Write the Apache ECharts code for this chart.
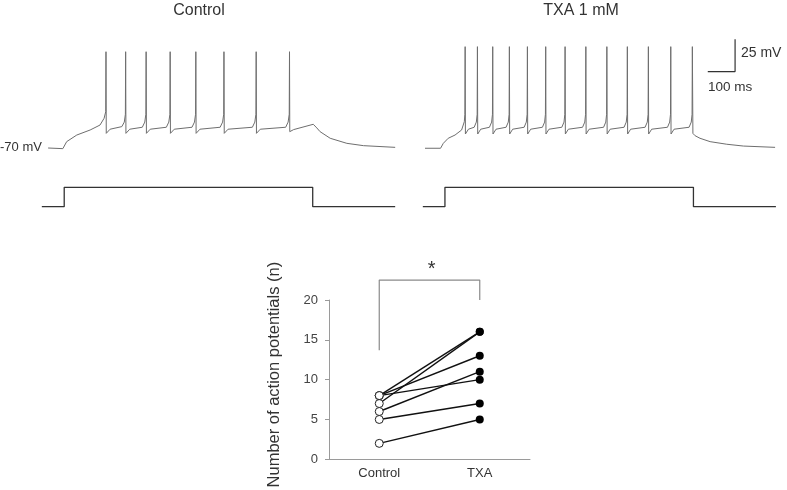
<!DOCTYPE html>
<html><head><meta charset="utf-8">
<script src="https://cdn.jsdelivr.net/npm/echarts@6/dist/echarts.min.js"></script>
<style>html,body{margin:0;padding:0;background:#fff}#c{width:787px;height:490px}</style>
</head><body><div id="c"></div><script>
// ---- summary data (number of action potentials per cell) ----
const groups = ['Control', 'TXA'];
const controlAP = [8, 7, 8, 8, 6, 5, 2];
const txaAP = [16, 16, 13, 10, 11, 7, 5];

// ---- example traces: [time ms, membrane potential mV] ----
const controlTrace = [
  [26,-70],[80,-70.5],[94,-65.1],[131,-60],[180,-56.1],[216,-52.3],[231,-47.1],[237,-42],[238,4.3],[239,-58.7],[253,-55.5],
  [296,-53.5],[305,-50],[309,-44],[310,4.3],[311,-58.7],[325,-55.5],
  [371,-54],[380,-50],[384,-44],[385,4.3],[386,-58.7],[400,-55.5],
  [459,-54],[468,-50],[472,-44],[473,4.3],[474,-58.7],[488,-55.5],
  [553,-54],[562,-50],[566,-44],[567,4.3],[568,-58.7],[582,-55.5],
  [656,-54],[665,-50],[669,-44],[670,4.3],[671,-58.7],[685,-55.5],
  [774,-54],[783,-50],[787,-44],[788,4.3],[789,-58.7],[803,-55.5],
  [896,-54],[905,-50],[909,-44],[910,4.3],[911,-57.4],[925,-55.8],
  [997,-51.7],[1010,-54.5],[1022,-57.4],[1059,-62.5],[1120,-66.4],[1181,-68.2],[1297,-69.5]
];
const txaTrace = [
  [11,-70.2],[68,-70.2],[78,-66.4],[96,-62.5],[121,-60],[145,-56.1],[155,-49.7],[157,-44],[158,8.2],[159,-59.2],[170,-55.5],
  [191,-54],[199,-50],[202,-44],[203,8.2],[204,-59.2],[215,-55.5],
  [247,-54],[255,-50],[258,-44],[259,8.2],[260,-59.2],[271,-55.5],
  [308,-54],[316,-50],[319,-44],[320,8.2],[321,-59.2],[332,-55.5],
  [374,-54],[382,-50],[385,-44],[386,8.2],[387,-59.2],[398,-55.5],
  [441,-54],[449,-50],[452,-44],[453,8.2],[454,-59.2],[465,-55.5],
  [512,-54],[520,-50],[523,-44],[524,8.2],[525,-59.2],[536,-55.5],
  [588,-54],[596,-50],[599,-44],[600,8.2],[601,-59.2],[612,-55.5],
  [665,-54],[673,-50],[676,-44],[677,8.2],[678,-59.2],[689,-55.5],
  [740,-54],[748,-50],[751,-44],[752,8.2],[753,-59.2],[764,-55.5],
  [817,-54],[825,-50],[828,-44],[829,8.2],[830,-59.2],[841,-55.5],
  [899,-54],[907,-50],[910,-44],[911,8.2],[912,-59.2],[923,-55.5],
  [978,-54],[986,-50],[989,-44],[990,8.2],[992,-58.7],[1000,-60.5],[1018,-62.5],[1055,-65.1],[1116,-67.1],[1177,-68.5],[1293,-69.5]
];
// ---- current step commands: [time ms, relative amplitude] ----
const controlStep = [[3,0],[85,0],[85,100],[995,100],[995,0],[1297,0]];
const txaStep = [[3,0],[84,0],[84,100],[994,100],[994,0],[1296,0]];
// ---- scale bar: 100 ms horizontal, 25 mV vertical ----
const scaleBar = [[1046.5,-11],[1146.5,-11],[1146.5,14]];
// ---- significance bracket ----
const bracket = [['Control',13.7],['Control',22.5],['TXA',22.5],['TXA',20]];

const FONT = '"Liberation Sans", Arial, sans-serif';
const chart = echarts.init(document.getElementById('c'), null, {renderer:'canvas'});

const traceLine = {color:'#6e6e6e', width:1};
const stepLine = {color:'#333', width:1.3};

const pairSeries = controlAP.map((c, i) => ({
  type:'line', xAxisIndex:4, yAxisIndex:4, symbol:'none', z:3,
  data:[[groups[0], c],[groups[1], txaAP[i]]],
  lineStyle:{color:'#111', width:1.4}
}));

const G = (o) => Object.assign({outerBoundsMode:'none', containLabel:false}, o);

chart.setOption({
  animation:false,
  backgroundColor:'#fff',
  grid:[
    G({left:41, top:31.36, width:355, height:129.6}),
    G({left:41, top:185.36, width:355, height:23.28}),
    G({left:422, top:31.36, width:355, height:129.6}),
    G({left:422, top:185.36, width:355, height:23.28}),
    G({left:329, top:300, width:201, height:159.3})
  ],
  xAxis:[
    {gridIndex:0, type:'value', min:0, max:1300, show:false},
    {gridIndex:1, type:'value', min:0, max:1300, show:false},
    {gridIndex:2, type:'value', min:0, max:1300, show:false},
    {gridIndex:3, type:'value', min:0, max:1300, show:false},
    {gridIndex:4, type:'category', data:groups, boundaryGap:true,
     axisLine:{lineStyle:{color:'#9a9a9a', width:1}}, axisTick:{show:false},
     axisLabel:{color:'#333', fontSize:13, fontFamily:FONT, margin:8}}
  ],
  yAxis:[
    {gridIndex:0, type:'value', min:-80, max:20, show:false},
    {gridIndex:1, type:'value', min:-10, max:110, show:false},
    {gridIndex:2, type:'value', min:-80, max:20, show:false},
    {gridIndex:3, type:'value', min:-10, max:110, show:false},
    {gridIndex:4, type:'value', min:0, max:20, interval:5,
     name:'Number of action potentials (n)', nameLocation:'middle', nameGap:46,
     nameTextStyle:{color:'#333', fontSize:16.5, fontFamily:FONT, padding:[0,0,0,10]},
     axisLine:{show:true, lineStyle:{color:'#9a9a9a', width:1}},
     axisTick:{show:true, length:4, lineStyle:{color:'#9a9a9a'}},
     splitLine:{show:false},
     axisLabel:{color:'#444', fontSize:13, fontFamily:FONT, margin:11}}
  ],
  series:[
    {type:'line', xAxisIndex:0, yAxisIndex:0, data:controlTrace, symbol:'none', lineStyle:traceLine},
    {type:'line', xAxisIndex:1, yAxisIndex:1, data:controlStep, symbol:'none', lineStyle:stepLine},
    {type:'line', xAxisIndex:2, yAxisIndex:2, data:txaTrace, symbol:'none', lineStyle:traceLine},
    {type:'line', xAxisIndex:3, yAxisIndex:3, data:txaStep, symbol:'none', lineStyle:stepLine},
    {type:'line', xAxisIndex:2, yAxisIndex:2, data:scaleBar, symbol:'none', lineStyle:{color:'#333', width:1.2}},
    ...pairSeries,
    {type:'line', xAxisIndex:4, yAxisIndex:4, data:bracket, symbol:'none', clip:false,
     lineStyle:{color:'#8a8a8a', width:1.2}},
    {type:'scatter', xAxisIndex:4, yAxisIndex:4, z:5, symbol:'circle', symbolSize:8,
     data:controlAP.map(v => [groups[0], v]),
     itemStyle:{color:'#fff', borderColor:'#222', borderWidth:1, opacity:1}},
    {type:'scatter', xAxisIndex:4, yAxisIndex:4, z:5, symbol:'circle', symbolSize:8,
     data:txaAP.map(v => [groups[1], v]),
     itemStyle:{color:'#000', opacity:1}}
  ],
  graphic:[
    {type:'text', x:199, y:11, style:{text:'Control', fill:'#333', font:'16px '+FONT, textAlign:'center', textVerticalAlign:'middle'}},
    {type:'text', x:581, y:11, style:{text:'TXA 1 mM', fill:'#333', font:'16px '+FONT, textAlign:'center', textVerticalAlign:'middle'}},
    {type:'text', x:0, y:147, style:{text:'-70 mV', fill:'#333', font:'13px '+FONT, textAlign:'left', textVerticalAlign:'middle'}},
    {type:'text', x:741, y:53, style:{text:'25 mV', fill:'#333', font:'14px '+FONT, textAlign:'left', textVerticalAlign:'middle'}},
    {type:'text', x:708, y:87, style:{text:'100 ms', fill:'#333', font:'13.5px '+FONT, textAlign:'left', textVerticalAlign:'middle'}},
    {type:'text', x:431.7, y:269, style:{text:'*', fill:'#333', font:'20px '+FONT, textAlign:'center', textVerticalAlign:'middle'}}
  ]
});
</script></body></html>
